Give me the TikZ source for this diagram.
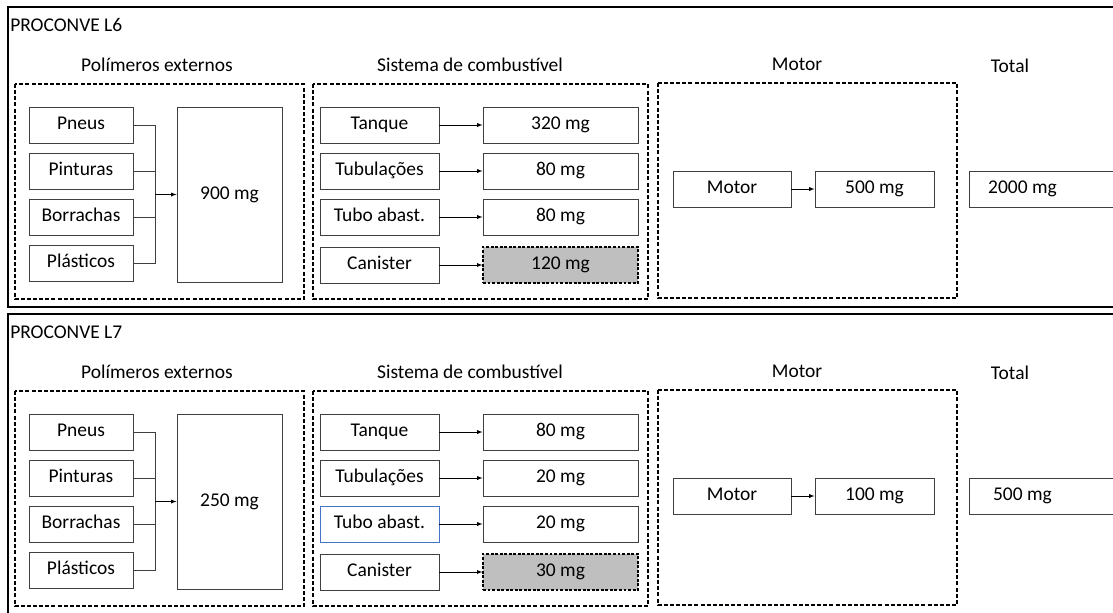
\documentclass[tikz,border=0pt]{standalone}
\usepackage{fontspec}
\setmainfont{Carlito}
\usetikzlibrary{arrows, positioning}

\definecolor{boxline}{HTML}{3F3F3F}
\definecolor{canfill}{HTML}{BFBFBF}
\definecolor{tuboblue}{HTML}{4472C4}

\tikzset{
    panel/.style={draw, line width=1.4pt},
    group/.style={draw, line width=1pt, dash pattern=on 3pt off 1.6pt},
    part/.style={draw=boxline, line width=0.7pt, minimum height=27pt, inner sep=0pt, text height=0.8em, text depth=0.12em},
    src/.style={part, minimum width=78pt},
    fuelsrc/.style={part, minimum width=89.25pt},
    fuelval/.style={part, minimum width=116.25pt},
    canval/.style={fuelval, draw=black, fill=canfill, dash pattern=on 2.2pt off 1.2pt, line width=0.9pt},
    title/.style={anchor=base},
    feed/.style={draw=boxline, line width=0.7pt},
    totaltext/.style={xshift=-16.9pt, text height=0.8em, text depth=0.12em},
    tubo-L6/.style={},
    tubo-L7/.style={draw=tuboblue},
}

% one panel: tag, offset, polymers, tank, lines, filler pipe, canister, engine, total
\newcommand{\proconve}[9]{%
\begin{scope}[shift={(0,#2)}]
    \draw[panel] (8,7) rectangle (1130,307);
    \node[anchor=base west, inner sep=0pt] (#1-name) at (10,31) {PROCONVE #1};

    \node[title] (#1-poly-title) at (157,71) {Polímeros externos};
    \node[title] (#1-fuel-title) at (470,71) {Sistema de combustível};
    \node[title] (#1-motor-title) at (797,70) {Motor};
    \node[title] (#1-total-title) at (1010,72) {Total};

    \draw[group] (15,84) rectangle (304,299);
    \draw[group] (313,84) rectangle (648,299);
    \draw[group] (658,83) rectangle (957,298);

    % polymers
    \foreach \name/\txt [count=\i] in {pneus/Pneus, pinturas/Pinturas, borrachas/Borrachas, plasticos/Plásticos}
        \node[src] (#1-\name) at (81,79+46*\i) {\txt};
    \node[part, minimum width=78.75pt, minimum height=131.25pt] (#1-poly) at (229.5,194.5) {#3 mg};
    \coordinate (#1-bus) at (155,194.5);
    \draw[feed] (#1-pneus.east) -| (#1-bus);
    \draw[feed] (#1-plasticos.east) -| (#1-bus);
    \draw[feed] (#1-pinturas.east) -- (#1-pinturas.east -| #1-bus);
    \draw[feed] (#1-borrachas.east) -- (#1-borrachas.east -| #1-bus);
    \draw[->] (#1-bus) -- (#1-poly.west);

    % fuel system
    \node[fuelsrc] (#1-tanque) at (379.5,125) {Tanque};
    \node[fuelval] (#1-tanque-mg) at (560.5,125) {#4 mg};
    \node[fuelsrc] (#1-tubos) at (379.5,171) {Tubulações};
    \node[fuelval] (#1-tubos-mg) at (560.5,171) {#5 mg};
    \node[fuelsrc, tubo-#1] (#1-tubo) at (379.5,217) {Tubo abast.};
    \node[fuelval] (#1-tubo-mg) at (560.5,217) {#6 mg};
    \node[fuelsrc] (#1-canister) at (379.5,265) {Canister};
    \node[canval] (#1-canister-mg) at (560.5,265) {#7 mg};
    \foreach \part in {tanque, tubos, tubo, canister}
        \draw[->] (#1-\part) -- (#1-\part-mg);

    % engine and total
    \node[part, minimum width=88.5pt] (#1-motor) at (732,189) {Motor};
    \node[part, minimum width=89.25pt] (#1-motor-mg) at (874.5,189) {#8 mg};
    \draw[->] (#1-motor) -- (#1-motor-mg);
    \node[part, anchor=west, minimum width=113.25pt, label={[totaltext]center:#9 mg}] (#1-total) at (969,189) {};
\end{scope}}

\begin{document}
\begin{tikzpicture}[x=0.75pt, y=-0.75pt, font=\fontsize{14.6}{17}\selectfont, >=latex]
    \clip (0,0) rectangle (1113,612);
    \proconve{L6}{0}{900}{320}{80}{80}{120}{500}{2000}
    \proconve{L7}{307}{250}{80}{20}{20}{30}{100}{500}
\end{tikzpicture}
\end{document}
